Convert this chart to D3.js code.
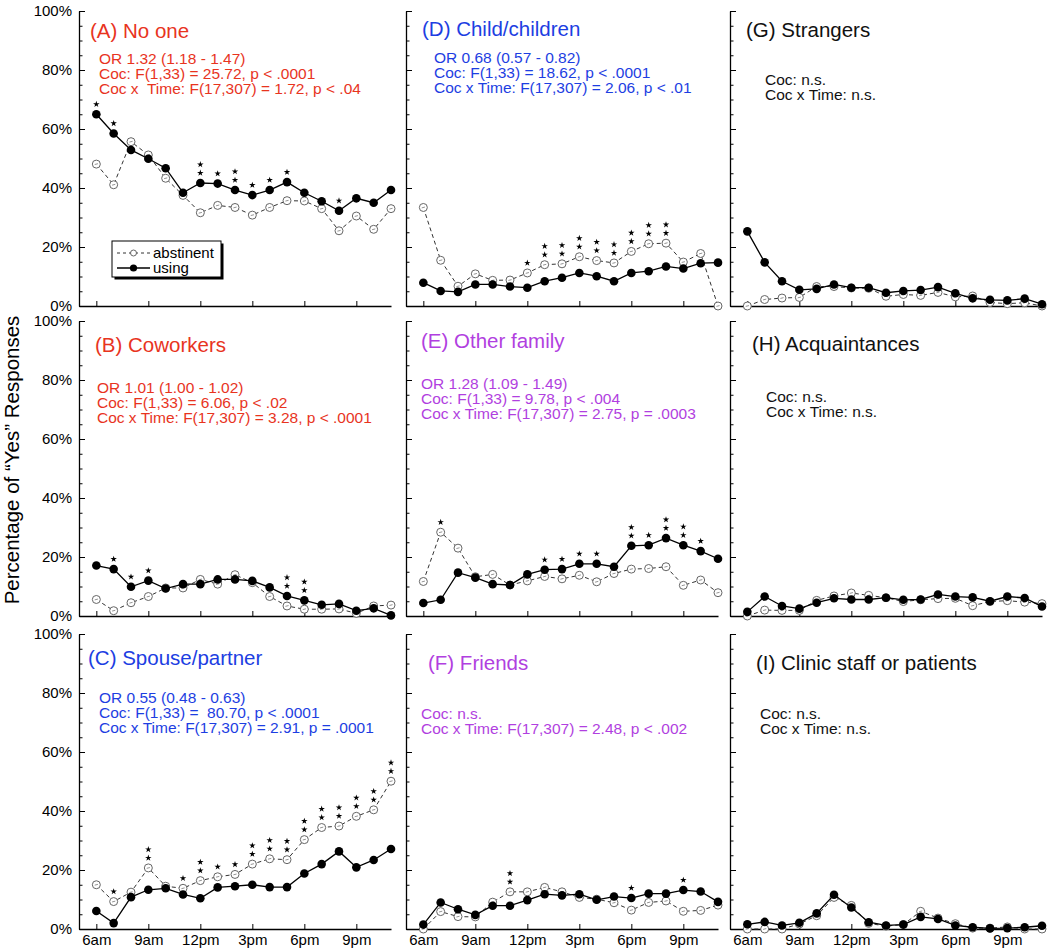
<!DOCTYPE html>
<html>
<head>
<meta charset="utf-8">
<script src="https://cdn.jsdelivr.net/npm/d3@7"></script>
<style>
  body { margin: 0; background: #fff; }
  svg text { font-family: "Liberation Sans", Arial, Helvetica, sans-serif; white-space: pre; }
</style>
</head>
<body>
<div id="chart"></div>
<script>
// hours of the day, 6am .. 11pm
const hours = [6, 7, 8, 9, 10, 11, 12, 13, 14, 15, 16, 17, 18, 19, 20, 21, 22, 23];
const tickHours = [6, 9, 12, 15, 18, 21];
const tickLabels = ["6am", "9am", "12pm", "3pm", "6pm", "9pm"];
const yTicks = [0, 20, 40, 60, 80, 100];

// (A) No one
const noOneAbst  = [48.1, 41.1, 55.7, 51.2, 43.3, 37.5, 31.6, 34.1, 33.4, 30.8, 33.4, 35.7, 35.6, 33.0, 25.5, 30.5, 26.0, 33.0];
const noOneUsing = [65.0, 58.5, 52.9, 49.9, 46.7, 38.4, 41.7, 41.5, 39.3, 37.6, 39.3, 42.0, 38.4, 35.5, 32.3, 36.5, 35.0, 39.3];
const noOneStars = [1, 1, 0, 0, 0, 0, 2, 1, 2, 1, 1, 1, 0, 0, 1, 0, 0, 0];
// (B) Coworkers
const coworkAbst  = [5.6, 1.8, 4.5, 6.6, 9.5, 9.5, 12.4, 10.8, 14.0, 11.3, 6.6, 3.4, 2.3, 2.3, 2.4, 0.9, 3.4, 3.7];
const coworkUsing = [17.1, 15.9, 9.9, 12.0, 9.3, 10.8, 10.8, 12.4, 12.4, 11.9, 9.7, 6.8, 5.3, 3.8, 4.1, 1.8, 2.6, 0.2];
const coworkStars = [0, 1, 1, 1, 0, 0, 0, 0, 0, 0, 0, 2, 2, 0, 0, 0, 0, 0];
// (C) Spouse/partner
const spouseAbst  = [15.0, 9.3, 12.5, 20.7, 14.5, 13.8, 16.4, 17.7, 18.5, 22.0, 23.8, 23.5, 30.3, 34.4, 34.9, 38.2, 40.4, 50.1];
const spouseUsing = [6.1, 2.0, 10.8, 13.3, 13.8, 11.7, 10.4, 14.1, 14.5, 15.0, 14.2, 14.2, 18.8, 22.0, 26.3, 20.9, 23.4, 27.1];
const spouseStars = [0, 1, 0, 2, 0, 1, 2, 1, 1, 2, 2, 2, 2, 2, 2, 2, 2, 2];
// (D) Child/children
const childAbst  = [33.4, 15.5, 6.7, 10.9, 8.7, 8.8, 11.2, 14.0, 14.3, 16.7, 15.4, 14.6, 18.5, 21.1, 21.3, 14.9, 17.8, 0];
const childUsing = [7.9, 5.1, 4.8, 7.3, 7.3, 6.6, 6.2, 8.4, 9.6, 11.2, 10.1, 8.4, 11.2, 11.8, 13.4, 12.7, 14.5, 14.7];
const childStars = [0, 0, 0, 0, 0, 0, 1, 2, 2, 2, 2, 2, 2, 2, 2, 0, 0, 0];
// (E) Other family
const familyAbst  = [11.7, 28.4, 23.0, 13.3, 14.1, 10.5, 11.9, 13.4, 12.6, 13.8, 11.6, 14.4, 15.9, 16.1, 16.7, 10.4, 12.2, 7.9];
const familyUsing = [4.4, 5.5, 14.7, 13.0, 10.8, 10.5, 14.1, 15.7, 15.9, 17.7, 17.7, 16.7, 23.8, 24.0, 26.4, 24.0, 22.0, 19.4];
const familyStars = [0, 1, 0, 0, 0, 0, 0, 1, 1, 1, 1, 0, 2, 1, 2, 2, 1, 0];
// (F) Friends
const friendsAbst  = [0, 5.9, 4.2, 4.1, 9.1, 12.6, 12.6, 14.1, 12.6, 10.7, 10.1, 8.9, 6.4, 9.0, 9.5, 6.0, 6.3, 8.1];
const friendsUsing = [1.5, 9.0, 6.7, 4.8, 7.9, 7.9, 9.8, 11.8, 11.4, 11.8, 9.9, 11.0, 10.5, 12.0, 12.0, 13.2, 12.7, 9.2];
const friendsStars = [0, 0, 0, 0, 0, 2, 0, 0, 0, 0, 0, 0, 1, 0, 0, 1, 0, 0];
// (G) Strangers
const strangerAbst  = [0, 2.2, 2.7, 2.9, 6.6, 6.6, 6.1, 6.0, 3.3, 3.9, 3.6, 4.6, 3.1, 3.4, 1.2, 0.8, 1.1, 0];
const strangerUsing = [25.3, 14.8, 8.4, 5.5, 5.8, 7.3, 6.2, 6.2, 4.5, 5.1, 5.4, 6.4, 4.3, 2.6, 2.1, 1.9, 2.5, 0.6];
// (H) Acquaintances
const acquaintAbst  = [0, 2.0, 1.9, 1.9, 5.3, 6.8, 7.8, 7.0, 6.2, 4.9, 5.5, 5.9, 6.0, 3.5, 4.9, 5.2, 4.7, 4.2];
const acquaintUsing = [1.4, 6.6, 3.4, 2.5, 4.5, 6.0, 5.6, 5.6, 6.2, 5.5, 5.6, 7.3, 6.6, 6.3, 5.0, 6.6, 6.1, 3.2];
// (I) Clinic staff or patients
const clinicAbst  = [0, 0, 0, 1.7, 4.5, 10.7, 8.0, 1.9, 1.0, 1.5, 6.0, 3.7, 1.8, 0.3, 0.3, 0.7, 0, 0];
const clinicUsing = [1.6, 2.4, 1.2, 2.1, 5.3, 11.6, 7.3, 2.3, 1.2, 1.5, 4.1, 3.4, 1.2, 0.6, 0.2, 0.3, 0.6, 1.1];

const titles = ["(A) No one", "(B) Coworkers", "(C) Spouse/partner",
  "(D) Child/children", "(E) Other family", "(F) Friends",
  "(G) Strangers", "(H) Acquaintances", "(I) Clinic staff or patients"];

const statLines = [
  ["OR 1.32 (1.18 - 1.47)", "Coc: F(1,33) = 25.72, p < .0001", "Coc x  Time: F(17,307) = 1.72, p < .04"],
  ["OR 1.01 (1.00 - 1.02)", "Coc: F(1,33) = 6.06, p < .02", "Coc x Time: F(17,307) = 3.28, p < .0001"],
  ["OR 0.55 (0.48 - 0.63)", "Coc: F(1,33) =  80.70, p < .0001", "Coc x Time: F(17,307) = 2.91, p = .0001"],
  ["OR 0.68 (0.57 - 0.82)", "Coc: F(1,33) = 18.62, p < .0001", "Coc x Time: F(17,307) = 2.06, p < .01"],
  ["OR 1.28 (1.09 - 1.49)", "Coc: F(1,33) = 9.78, p < .004", "Coc x Time: F(17,307) = 2.75, p = .0003"],
  ["Coc: n.s.", "Coc x Time: F(17,307) = 2.48, p < .002"],
  ["Coc: n.s.", "Coc x Time: n.s."],
  ["Coc: n.s.", "Coc x Time: n.s."],
  ["Coc: n.s.", "Coc x Time: n.s."]
];

const absts  = [noOneAbst, coworkAbst, spouseAbst, childAbst, familyAbst, friendsAbst, strangerAbst, acquaintAbst, clinicAbst];
const usings = [noOneUsing, coworkUsing, spouseUsing, childUsing, familyUsing, friendsUsing, strangerUsing, acquaintUsing, clinicUsing];
const starsAll = [noOneStars, coworkStars, spouseStars, childStars, familyStars, friendsStars, null, null, null];

// styling / layout
const red = "#e8341e", blue = "#1d3ee2", purple = "#b13fe0";
const colors = [red, red, blue, blue, purple, purple, "#111", "#111", "#111"];
const colX = [79, 406, 730];
const rowTop = [11, 321, 634];
const plotW = 312, plotH = 295;
// text placement per panel: [titleX, titleY, statX, statY]
const textPos = [
  [90, 38, 99, 64], [95, 352, 97, 393], [88, 665, 99, 703],
  [422, 36, 434, 63], [421, 348, 421, 389], [428, 670, 421, 719],
  [746, 37, 765, 85], [752, 351, 766, 402], [756, 670, 760, 719]
];

const width = 1050, height = 951;
const svg = d3.select("#chart").append("svg")
  .attr("width", width)
  .attr("height", height);

const line = (x, y) => d3.line().x((d, i) => x(hours[i])).y(d => y(d));
const star = d3.symbol().type(d3.symbolStar).size(13);

titles.forEach((title, p) => {
  const col = Math.floor(p / 3), row = p % 3;
  const x0 = colX[col], y0 = rowTop[row];
  const x = d3.scaleLinear().domain([5, 23]).range([x0, x0 + plotW]);
  const y = d3.scaleLinear().domain([0, 100]).range([y0 + plotH, y0]);
  const g = svg.append("g");

  // y axis: minor ticks every 5%, major every 20%
  g.append("g")
    .attr("transform", `translate(${x0},0)`)
    .call(d3.axisLeft(y).tickValues(d3.range(0, 101, 5)).tickSize(-3.5).tickFormat(""))
    .call(a => a.select(".domain").remove());
  g.append("g")
    .attr("transform", `translate(${x0},0)`)
    .call(d3.axisLeft(y).tickValues(yTicks).tickSizeInner(-6).tickSizeOuter(0).tickPadding(7)
      .tickFormat(d => col === 0 ? d + "%" : ""))
    .call(a => a.selectAll("text").attr("font-size", 15).attr("fill", "#000").attr("dy", "0.3em"));

  // x axis
  g.append("g")
    .attr("transform", `translate(0,${y0 + plotH})`)
    .call(d3.axisBottom(x).tickValues(tickHours).tickSizeInner(-5).tickSizeOuter(0).tickPadding(5)
      .tickFormat((d, i) => row === 2 ? tickLabels[i] : ""))
    .call(a => a.selectAll("text").attr("font-size", 15).attr("fill", "#000"));

  svg.selectAll(".domain").attr("stroke", "#000").attr("stroke-width", 1.3);
  svg.selectAll(".tick line").attr("stroke", "#000").attr("stroke-width", 1);

  // lines
  g.append("path")
    .attr("d", line(x, y)(absts[p]))
    .attr("fill", "none")
    .attr("stroke", "#333")
    .attr("stroke-width", 1)
    .attr("stroke-dasharray", "4,3");
  g.selectAll(".abst").data(absts[p]).join("g")
    .attr("transform", (d, i) => `translate(${x(hours[i])},${y(d)})`)
    .each(function() {
      const m = d3.select(this);
      m.append("circle").attr("r", 4).attr("fill", "#fff").attr("stroke", "#666").attr("stroke-width", 1);
      m.append("line").attr("x1", -1.6).attr("x2", 1.6).attr("y1", 0.4).attr("y2", -0.4)
        .attr("stroke", "#777").attr("stroke-width", 0.8);
    });

  g.append("path")
    .attr("d", line(x, y)(usings[p]))
    .attr("fill", "none")
    .attr("stroke", "#000")
    .attr("stroke-width", 1.3);
  g.selectAll(".using").data(usings[p]).join("circle")
    .attr("cx", (d, i) => x(hours[i]))
    .attr("cy", d => y(d))
    .attr("r", 4.3)
    .attr("fill", "#000");

  // significance stars above the higher marker
  if (starsAll[p]) {
    starsAll[p].forEach((n, i) => {
      const top = y(Math.max(absts[p][i], usings[p][i]));
      for (let k = 0; k < n; k++) {
        g.append("path")
          .attr("d", star)
          .attr("transform", `translate(${x(hours[i])},${top - 10 - k * 8.5})`)
          .attr("fill", "#000");
      }
    });
  }

  // panel title and statistics
  const [tx, ty, sx, sy] = textPos[p];
  g.append("text")
    .attr("x", tx).attr("y", ty)
    .attr("font-size", 20.5)
    .attr("fill", colors[p])
    .text(title);
  statLines[p].forEach((s, k) => {
    g.append("text")
      .attr("x", sx).attr("y", sy + k * 15)
      .attr("font-size", 15.5)
      .attr("fill", colors[p])
      .text(s);
  });
});

// legend in panel A
const leg = svg.append("g").attr("transform", "translate(112,241)");
leg.append("rect").attr("x", 2.5).attr("y", 2.5).attr("width", 109).attr("height", 36).attr("fill", "#000");
leg.append("rect").attr("width", 109).attr("height", 36).attr("fill", "#fff").attr("stroke", "#000").attr("stroke-width", 1);
leg.append("line").attr("x1", 5).attr("x2", 38).attr("y1", 12).attr("y2", 12)
  .attr("stroke", "#333").attr("stroke-dasharray", "3,3");
leg.append("circle").attr("cx", 21.5).attr("cy", 12).attr("r", 3).attr("fill", "#fff").attr("stroke", "#666");
leg.append("text").attr("x", 41).attr("y", 17).attr("font-size", 15).text("abstinent");
leg.append("line").attr("x1", 5).attr("x2", 38).attr("y1", 27).attr("y2", 27)
  .attr("stroke", "#000").attr("stroke-width", 1.3);
leg.append("circle").attr("cx", 21.5).attr("cy", 27).attr("r", 3.6).attr("fill", "#000");
leg.append("text").attr("x", 41).attr("y", 32).attr("font-size", 15).text("using");

// y axis title
svg.append("text")
  .attr("transform", "translate(19,460) rotate(-90)")
  .attr("text-anchor", "middle")
  .attr("font-size", 20.5)
  .text("Percentage of “Yes” Responses");
</script>
</body>
</html>
